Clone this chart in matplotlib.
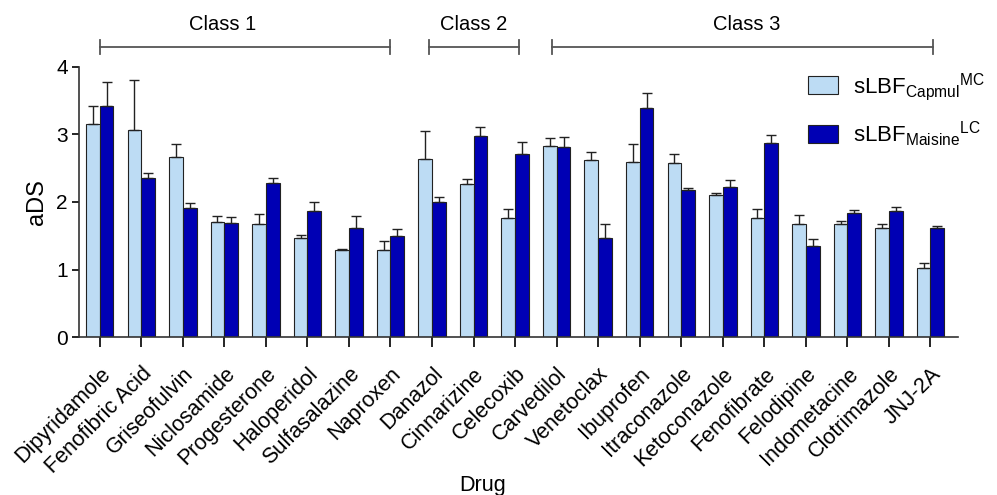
"""
aDS per drug for two sLBF formulations, grouped bars with class brackets.
"""

import numpy as np
import matplotlib
matplotlib.use('Agg')
import matplotlib.pyplot as plt

drugs = ["Dipyridamole", "Fenofibric Acid", "Griseofulvin", "Niclosamide",
         "Progesterone", "Haloperidol", "Sulfasalazine", "Naproxen",
         "Danazol", "Cinnarizine", "Celecoxib", "Carvedilol", "Venetoclax",
         "Ibuprofen", "Itraconazole", "Ketoconazole", "Fenofibrate",
         "Felodipine", "Indometacine", "Clotrimazole", "JNJ-2A"]

capmul = [3.16, 3.07, 2.67, 1.71, 1.67, 1.47, 1.29, 1.29, 2.63, 2.27, 1.76,
          2.83, 2.62, 2.59, 2.57, 2.10, 1.77, 1.68, 1.67, 1.62, 1.03]
capmul_err = [0.26, 0.73, 0.19, 0.08, 0.15, 0.04, 0.02, 0.13, 0.42, 0.07, 0.14,
              0.12, 0.12, 0.27, 0.14, 0.04, 0.12, 0.12, 0.05, 0.05, 0.06]

maisine = [3.42, 2.36, 1.91, 1.69, 2.28, 1.87, 1.62, 1.50, 2.00, 2.97, 2.71,
           2.81, 1.47, 3.39, 2.18, 2.22, 2.88, 1.35, 1.84, 1.87, 1.61]
maisine_err = [0.36, 0.07, 0.08, 0.09, 0.07, 0.13, 0.17, 0.10, 0.08, 0.14, 0.18,
               0.15, 0.20, 0.22, 0.02, 0.10, 0.11, 0.10, 0.04, 0.05, 0.04]

# class label, first drug index, last drug index, label position
classes = [("Class 1", 0, 7, 2.96), ("Class 2", 7.93, 10.1, 9.0),
           ("Class 3", 10.88, 20.05, 15.57)]

plt.rcParams['font.family'] = ['Liberation Sans', 'DejaVu Sans']
plt.rcParams['mathtext.fontset'] = 'custom'
plt.rcParams['mathtext.rm'] = 'Liberation Sans'

LIGHT = '#bddcf4'
DARK = '#0000b4'

fig = plt.figure(figsize=(9.97, 4.95), dpi=100)
ax = fig.add_axes([0.0792, 0.319, 0.882, 0.546])

x = np.arange(len(drugs))
w = 0.33
err_kw = dict(ecolor='#222222', elinewidth=1.0, capsize=3.5, capthick=1.0)
ax.bar(x - w / 2, capmul, w, yerr=[np.zeros(len(x)), capmul_err],
       color=LIGHT, edgecolor='#222222', linewidth=0.8,
       error_kw=err_kw, label=r'sLBF$_\mathregular{Capmul}$$^\mathregular{MC}$')
ax.bar(x + w / 2, maisine, w, yerr=[np.zeros(len(x)), maisine_err],
       color=DARK, edgecolor='#222222', linewidth=0.8,
       error_kw=err_kw, label=r'sLBF$_\mathregular{Maisine}$$^\mathregular{LC}$')

ax.set_xlim(-0.5, 20.67)
ax.set_ylim(0, 4)
ax.set_yticks([0, 1, 2, 3, 4])
ax.set_xticks(x)
ax.set_xticklabels(drugs, rotation=45, ha='right', rotation_mode='anchor',
                   fontsize=15.5)
ax.tick_params(axis='y', labelsize=15, length=5, width=1.2, direction='out',
               pad=3)
ax.tick_params(axis='x', length=7, width=1.2, direction='out', pad=12)
for side in ('top', 'right'):
    ax.spines[side].set_visible(False)
for side in ('left', 'bottom'):
    ax.spines[side].set_linewidth(1.2)
    ax.spines[side].set_color('#333333')

ax.set_ylabel('aDS', fontsize=17, labelpad=6)
ax.set_xlabel('Drug', fontsize=15.5)
ax.xaxis.set_label_coords(0.459, -0.51)

# class brackets above the plot
for name, i0, i1, xt in classes:
    ybr = 4.29
    ax.plot([i0, i1], [ybr, ybr], color='#555555', lw=1.3, clip_on=False)
    for xi in (i0, i1):
        ax.plot([xi, xi], [ybr - 0.1, ybr + 0.1], color='#555555', lw=1.3,
                clip_on=False)
    ax.text(xt, 4.62, name, ha='center', va='center', fontsize=14.5)

ax.legend(loc='upper left', bbox_to_anchor=(0.806, 1.06), frameon=False,
          fontsize=16, handlelength=1.35, handleheight=0.85, labelspacing=0.75,
          handletextpad=0.7)

fig.savefig('out.png', dpi=100)
